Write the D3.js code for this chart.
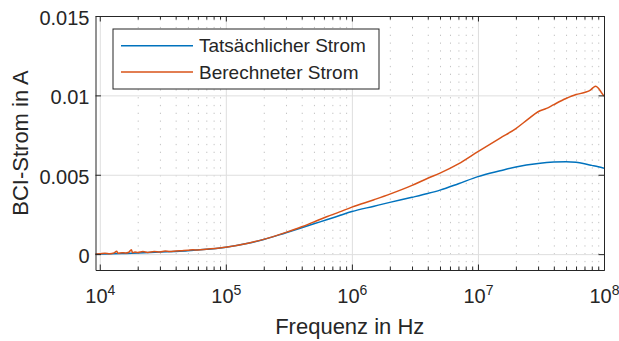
<!DOCTYPE html>
<html>
<head>
<meta charset="utf-8">
<script src="https://cdn.jsdelivr.net/npm/d3@7"></script>
<style>
  body { margin: 0; background: #fff; }
  text { font-family: "Liberation Sans", Arial, sans-serif; fill: #262626; }
</style>
</head>
<body>
<div id="chart"></div>
<script>
// Frequency (Hz) and measured / computed BCI current (A)
const freqBlue = [9250, 1e4, 1.5e4, 2e4, 2.5e4, 3e4, 4e4, 5e4, 7e4, 1e5, 1.5e5, 2e5, 3e5, 4e5, 5e5, 6.3e5, 8e5,
  1e6, 1.5e6, 2e6, 3e6, 4e6, 5e6, 7e6, 1e7, 1.5e7, 2e7, 3e7, 4e7, 5e7, 6e7, 7e7, 8e7, 9e7, 1e8];
const stromTats = [0.00000, 0.00001, 0.00004, 0.00007, 0.00010, 0.00013, 0.00017, 0.00021, 0.00030, 0.00043,
  0.00068, 0.00092, 0.00135, 0.00166, 0.00191, 0.00216, 0.00243, 0.00268, 0.00302, 0.00326, 0.00358, 0.00382,
  0.00403, 0.00443, 0.00488, 0.00525, 0.00549, 0.00571, 0.00580, 0.00582, 0.00578, 0.00569, 0.00559, 0.00550, 0.00541];

const freqOrange = [9250, 1e4, 1.1e4, 1.2e4, 1.3e4, 1.36e4, 1.4e4, 1.5e4, 1.6e4, 1.7e4, 1.78e4, 1.82e4, 1.9e4,
  2e4, 2.2e4, 2.4e4, 2.7e4, 3e4, 3.3e4, 3.6e4, 4e4, 4.5e4, 5e4, 5.5e4, 6e4, 7e4, 1e5, 1.5e5, 2e5, 3e5, 4e5, 5e5,
  6.3e5, 8e5, 1e6, 1.5e6, 2e6, 3e6, 4e6, 5e6, 7e6, 1e7, 1.5e7, 2e7, 2.5e7, 3e7, 3.5e7, 4e7, 5e7, 6e7, 7e7, 7.8e7,
  8.2e7, 8.6e7, 9e7, 9.5e7, 1e8];
const stromBer = [0.00000, 0.00002, 0.00006, 0.00003, 0.00008, 0.00018, 0.00005, 0.00009, 0.00007, 0.00012,
  0.00028, 0.00009, 0.00013, 0.00010, 0.00016, 0.00011, 0.00017, 0.00014, 0.00019, 0.00016, 0.00020, 0.00022,
  0.00024, 0.00027, 0.00026, 0.00031, 0.00044, 0.00069, 0.00093, 0.00137, 0.00172, 0.00203, 0.00235, 0.00266,
  0.00296, 0.00343, 0.00378, 0.00433, 0.00478, 0.00510, 0.00568, 0.00645, 0.00731, 0.00791, 0.00850, 0.00897,
  0.00918, 0.00942, 0.00980, 0.01005, 0.01018, 0.01033, 0.01049, 0.01058, 0.01046, 0.01020, 0.00995];

const seriesNames = ['Tatsächlicher Strom', 'Berechneter Strom'];
const seriesColors = ['#0072BD', '#D95319'];

const xMajor = [1e4, 1e5, 1e6, 1e7, 1e8];
const xExp = ['4', '5', '6', '7', '8'];
const yTicks = [0, 0.005, 0.01, 0.015];
const yTickLabels = ['0', '0.005', '0.01', '0.015'];

const W = 619, H = 341;
const margin = {top: 16, right: 15, bottom: 71, left: 95.5};
const width = W - margin.left - margin.right;
const height = H - margin.top - margin.bottom;

const svg = d3.select('#chart').append('svg')
    .attr('width', W)
    .attr('height', H);

const chart = svg.append('g')
    .attr('transform', `translate(${margin.left},${margin.top})`);

const x = d3.scaleLog().domain([9250, 1e8]).range([0, width]);
const y = d3.scaleLinear().domain([-0.001, 0.015]).range([height, 0]);

// minor tick values 2..9 in each decade
const xMinor = [];
for (let e = 3; e < 8; e++) {
  for (let k = 2; k <= 9; k++) {
    const v = k * Math.pow(10, e);
    if (v >= 9250 && v <= 1e8) xMinor.push(v);
  }
}

// grid
chart.append('g')
    .attr('transform', `translate(0,${height})`)
    .call(d3.axisBottom(x).tickValues(xMinor).tickSize(-height).tickFormat(''))
    .call(g => g.select('.domain').remove())
    .call(g => g.selectAll('line').attr('stroke', '#c4c4c4').attr('stroke-dasharray', '1.3,6.5'));

chart.append('g')
    .attr('transform', `translate(0,${height})`)
    .call(d3.axisBottom(x).tickValues(xMajor).tickSize(-height).tickFormat(''))
    .call(g => g.select('.domain').remove())
    .call(g => g.selectAll('line').attr('stroke', '#dedede'));

chart.append('g')
    .call(d3.axisLeft(y).tickValues(yTicks).tickSize(-width).tickFormat(''))
    .call(g => g.select('.domain').remove())
    .call(g => g.selectAll('line').attr('stroke', '#dedede'));

// curves
const line = d3.line()
    .x(d => x(d[0]))
    .y(d => y(d[1]))
    .curve(d3.curveMonotoneX);

const series = [
  d3.zip(freqBlue, stromTats),
  d3.zip(freqOrange, stromBer)
];

chart.selectAll('.curve')
    .data(series)
  .join('path')
    .attr('class', 'curve')
    .attr('fill', 'none')
    .attr('stroke', (d, i) => seriesColors[i])
    .attr('stroke-width', 1.5)
    .attr('d', line);

// axes (box, inward ticks)
const axisColor = '#262626';
function styleAxis(g) {
  g.select('.domain').attr('stroke', axisColor);
  g.selectAll('.tick line').attr('stroke', axisColor);
}

const xAxis = chart.append('g')
    .attr('transform', `translate(0,${height})`)
    .call(d3.axisBottom(x).tickValues(xMajor).tickSize(-5.5).tickSizeOuter(0).tickFormat(''))
    .call(styleAxis);

xAxis.selectAll('.tick text')
    .attr('font-size', 20)
    .attr('dy', 0)
    .attr('y', 33)
    .each(function(d, i) {
      const t = d3.select(this);
      t.append('tspan').text('10');
      t.append('tspan').attr('font-size', 14).attr('dy', -8).text(xExp[i]);
    });

chart.append('g')
    .attr('transform', `translate(0,${height})`)
    .call(d3.axisBottom(x).tickValues(xMinor).tickSize(-3.5).tickSizeOuter(0).tickFormat(''))
    .call(styleAxis);

chart.append('g')
    .call(d3.axisTop(x).tickValues(xMajor).tickSize(-5.5).tickSizeOuter(0).tickFormat(''))
    .call(styleAxis);

chart.append('g')
    .call(d3.axisTop(x).tickValues(xMinor).tickSize(-3.5).tickSizeOuter(0).tickFormat(''))
    .call(styleAxis);

chart.append('g')
    .call(d3.axisLeft(y).tickValues(yTicks).tickSize(-5.5).tickSizeOuter(0).tickPadding(6)
      .tickFormat((d, i) => yTickLabels[i]))
    .call(styleAxis)
    .call(g => g.selectAll('.tick text').attr('font-size', 20).attr('dy', 8.5));

chart.append('g')
    .attr('transform', `translate(${width},0)`)
    .call(d3.axisRight(y).tickValues(yTicks).tickSize(-5.5).tickSizeOuter(0).tickFormat(''))
    .call(styleAxis);

// axis titles
chart.append('text')
    .attr('x', width / 2)
    .attr('y', height + 64)
    .attr('text-anchor', 'middle')
    .attr('font-size', 22)
    .text('Frequenz in Hz');

chart.append('text')
    .attr('transform', `translate(${28 - margin.left},${height / 2}) rotate(-90)`)
    .attr('text-anchor', 'middle')
    .attr('font-size', 22)
    .text('BCI-Strom in A');

// legend
const legend = chart.append('g')
    .attr('transform', `translate(${113 - margin.left},${29 - margin.top})`);

legend.append('rect')
    .attr('width', 266)
    .attr('height', 60)
    .attr('fill', '#fff')
    .attr('stroke', axisColor)
    .attr('stroke-width', 1);

const items = legend.selectAll('.item')
    .data(seriesNames)
  .join('g')
    .attr('class', 'item')
    .attr('transform', (d, i) => `translate(0,${16.7 + i * 26.3})`);

items.append('line')
    .attr('x1', 8).attr('x2', 80)
    .attr('stroke', (d, i) => seriesColors[i])
    .attr('stroke-width', 1.5);

items.append('text')
    .attr('x', 86)
    .attr('dy', '0.35em')
    .attr('font-size', 19)
    .text(d => d);
</script>
</body>
</html>
